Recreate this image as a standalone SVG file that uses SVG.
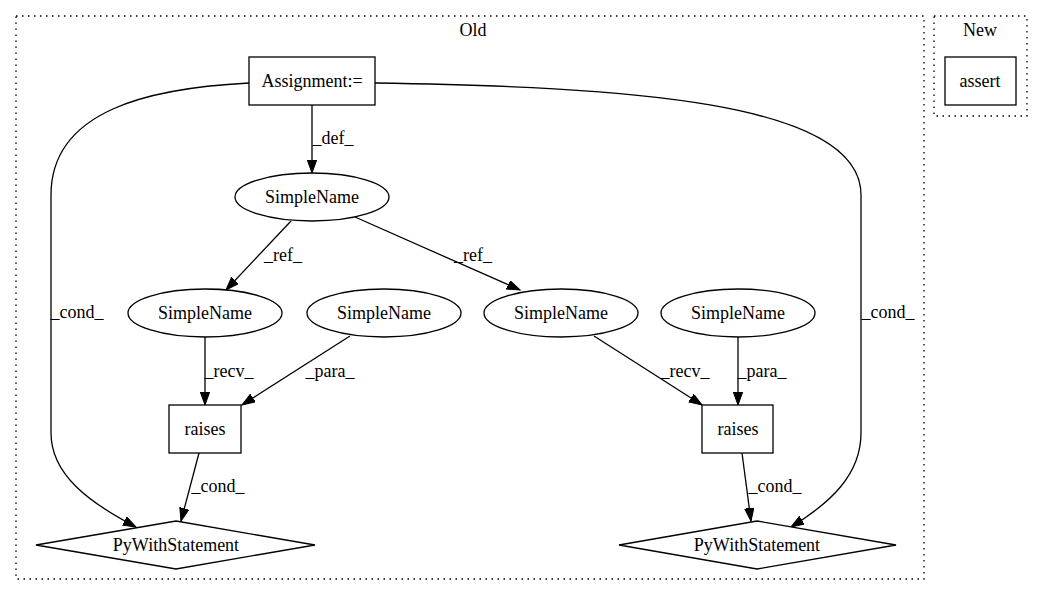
<svg xmlns="http://www.w3.org/2000/svg" width="1051" height="596" viewBox="0 0 1051 596">
<style>
text{font-family:"Liberation Serif","Times New Roman",serif;font-size:18px;fill:#000;text-anchor:middle}
.cl{fill:none;stroke:#000;stroke-width:1.3;stroke-dasharray:1.5,4.5}
.n{fill:#fff;stroke:#000;stroke-width:1.3}
.e{fill:none;stroke:#000;stroke-width:1.3;marker-end:url(#ah)}
</style>
<defs>
<marker id="ah" markerUnits="userSpaceOnUse" markerWidth="15" markerHeight="11" refX="13" refY="4.7" orient="auto">
<path d="M0,0 L13,4.7 L0,9.4 z" fill="#000" stroke="#000" stroke-width="1"/>
</marker>
</defs>
<rect width="1051" height="596" fill="#fff"/>
<g id="cluster_old">
<rect class="cl" x="16" y="16" width="908" height="563"/>
<text x="473" y="36">Old</text>
</g>
<g id="cluster_new">
<rect class="cl" x="934" y="16" width="93" height="100"/>
<text x="980" y="36">New</text>
</g>
<g id="edges">
<path class="e" d="M312,105 L312,173"/>
<text x="333" y="144">_def_</text>
<path class="e" d="M291,221 L226,290"/>
<text x="283" y="261">_ref_</text>
<path class="e" d="M355,217 L520,290"/>
<text x="473" y="261">_ref_</text>
<path class="e" d="M205,337 L205,405"/>
<text x="229" y="377">_recv_</text>
<path class="e" d="M350,336 L242,405"/>
<text x="330" y="377">_para_</text>
<path class="e" d="M594,336 L702,405"/>
<text x="685" y="377">_recv_</text>
<path class="e" d="M738,337 L738,405"/>
<text x="762" y="377">_para_</text>
<path class="e" d="M199,453 L181,521"/>
<text x="218" y="492">_cond_</text>
<path class="e" d="M742,453 L751,521"/>
<text x="775" y="492">_cond_</text>
<path class="e" d="M249,83 C150,88 51,110 51,195 L51,433 C51,475 90,503 136,527"/>
<text x="77" y="318">_cond_</text>
<path class="e" d="M375,83 C620,87 861,100 861,195 L861,433 C861,475 830,503 791,527"/>
<text x="888" y="318">_cond_</text>
</g>
<g id="n_assign">
<rect class="n" x="249" y="57" width="126" height="48"/>
<text x="312" y="87">Assignment:=</text>
</g>
<g id="n_sn_top">
<ellipse class="n" cx="312" cy="197" rx="77" ry="24"/>
<text x="312" y="203">SimpleName</text>
</g>
<g id="n_sn_1">
<ellipse class="n" cx="205" cy="313" rx="77" ry="24"/>
<text x="205" y="319">SimpleName</text>
</g>
<g id="n_sn_2">
<ellipse class="n" cx="384" cy="313" rx="77" ry="24"/>
<text x="384" y="319">SimpleName</text>
</g>
<g id="n_sn_3">
<ellipse class="n" cx="561" cy="313" rx="77" ry="24"/>
<text x="561" y="319">SimpleName</text>
</g>
<g id="n_sn_4">
<ellipse class="n" cx="738" cy="313" rx="77" ry="24"/>
<text x="738" y="319">SimpleName</text>
</g>
<g id="n_raises_1">
<rect class="n" x="169" y="405" width="72" height="48"/>
<text x="205" y="435">raises</text>
</g>
<g id="n_raises_2">
<rect class="n" x="702" y="405" width="71" height="48"/>
<text x="738" y="435">raises</text>
</g>
<g id="n_with_1">
<polygon class="n" points="176,521 315,545 176,569 36,545"/>
<text x="176" y="551">PyWithStatement</text>
</g>
<g id="n_with_2">
<polygon class="n" points="757,521 896,545 757,569 619,545"/>
<text x="757" y="551">PyWithStatement</text>
</g>
<g id="n_assert">
<rect class="n" x="945" y="57" width="71" height="48"/>
<text x="980" y="87">assert</text>
</g>
</svg>
